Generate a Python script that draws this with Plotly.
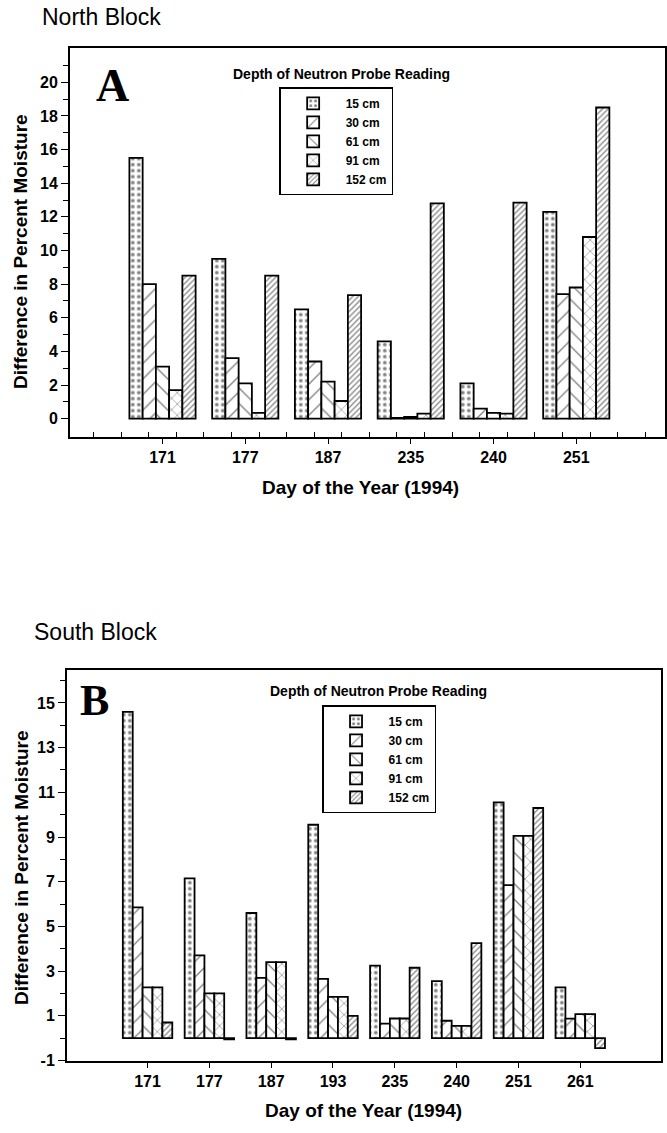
import plotly.graph_objects as go

# ---------------- data ----------------
days_north = ["171", "177", "187", "235", "240", "251"]
north_15 = [15.5, 9.5, 6.5, 4.6, 2.1, 12.3]
north_30 = [8.0, 3.6, 3.4, 0.05, 0.6, 7.4]
north_61 = [3.1, 2.1, 2.2, 0.1, 0.35, 7.8]
north_91 = [1.7, 0.35, 1.05, 0.3, 0.3, 10.8]
north_152 = [8.5, 8.5, 7.35, 12.8, 12.85, 18.5]

days_south = ["171", "177", "187", "193", "235", "240", "251", "261"]
south_15 = [14.6, 7.15, 5.6, 9.55, 3.25, 2.55, 10.55, 2.27]
south_30 = [5.85, 3.7, 2.7, 2.65, 0.65, 0.78, 6.85, 0.87]
south_61 = [2.27, 2.0, 3.4, 1.85, 0.88, 0.55, 9.05, 1.08]
south_91 = [2.27, 2.0, 3.4, 1.85, 0.88, 0.55, 9.05, 1.08]
south_152 = [0.7, -0.05, -0.05, 1.0, 3.15, 4.25, 10.3, -0.45]

depth_labels = ["15 cm", "30 cm", "61 cm", "91 cm", "152 cm"]

north_yticks = [0, 2, 4, 6, 8, 10, 12, 14, 16, 18, 20]
south_yticks = [-1, 1, 3, 5, 7, 9, 11, 13, 15]

# ---------------- styles ----------------
patterns = [
    dict(shape=".", size=6, solidity=0.3),
    dict(shape="/", size=11, solidity=0.12),
    dict(shape="\\", size=11, solidity=0.12),
    dict(shape="x", size=8, solidity=0.15),
    dict(shape="/", size=4, solidity=0.3),
]

W, H = 667, 1133
FONT = "Liberation Sans, Arial, sans-serif"
SERIF = "Liberation Serif, Times New Roman, serif"


def xd(px0, px1):
    return [px0 / W, px1 / W]


def yd(py_top, py_bot):
    return [(H - py_bot) / H, (H - py_top) / H]


fig = go.Figure()

north_series = [north_15, north_30, north_61, north_91, north_152]
south_series = [south_15, south_30, south_61, south_91, south_152]
xn = list(range(len(days_north)))
xs = list(range(len(days_south)))

for lab, vals, pat in zip(depth_labels, north_series, patterns):
    fig.add_trace(go.Bar(
        x=xn, y=vals, name=lab, xaxis="x", yaxis="y", legend="legend",
        marker=dict(color="white", line=dict(color="black", width=1.8),
                    pattern=dict(fgcolor="black", bgcolor="white", **pat)),
    ))

for lab, vals, pat in zip(depth_labels, south_series, patterns):
    fig.add_trace(go.Bar(
        x=xs, y=vals, name=lab, xaxis="x2", yaxis="y2", legend="legend2",
        marker=dict(color="white", line=dict(color="black", width=1.8),
                    pattern=dict(fgcolor="black", bgcolor="white", **pat)),
    ))

axis_common = dict(showline=True, linecolor="black", linewidth=1.5, mirror=True,
                   showgrid=False, zeroline=False, tickcolor="black",
                   tickfont=dict(family=FONT, size=16, color="black", weight="bold"))

# Panel A geometry (pixels)
ax_l, ax_r, ax_t, ax_b = 70, 667, 48, 440
a_c0, a_step = 163, 83
a_lo = (ax_l - a_c0) / a_step
a_hi = (ax_r - a_c0) / a_step

# Panel B geometry
bx_l, bx_r, bx_t, bx_b = 67, 663, 675, 1069
b_c0, b_step = 148, 62
b_lo = (bx_l - b_c0) / b_step
b_hi = (bx_r - b_c0) / b_step

fig.update_layout(
    width=W, height=H,
    margin=dict(l=0, r=0, t=0, b=0),
    paper_bgcolor="white", plot_bgcolor="white",
    barmode="group", bargap=0.2, bargroupgap=0,
    font=dict(family=FONT, color="black"),
    xaxis=dict(domain=xd(ax_l, ax_r), anchor="y", range=[a_lo, a_hi],
               tickvals=xn, ticktext=days_north, ticks="outside", ticklen=6,
               minor=dict(tick0=1/6, dtick=1/3, ticks="inside", ticklen=5, tickcolor="black"),
               **axis_common),
    yaxis=dict(domain=yd(ax_t, ax_b), anchor="x", range=[-1.06, 22.06],
               tickvals=north_yticks, ticktext=[str(v) for v in north_yticks],
               ticks="outside", ticklen=7,
               minor=dict(tickvals=[v + 1 for v in north_yticks], ticks="outside",
                          ticklen=5, tickcolor="black"),
               **axis_common),
    xaxis2=dict(domain=xd(bx_l, bx_r), anchor="y2", range=[b_lo, b_hi],
                tickvals=xs, ticktext=days_south, ticks="outside", ticklen=6,
                **axis_common),
    yaxis2=dict(domain=yd(bx_t, bx_b), anchor="x2", range=[-1, 16.49],
                tickvals=south_yticks, ticktext=[str(v) for v in south_yticks],
                ticks="outside", ticklen=7,
                minor=dict(tickvals=[v + 1 for v in south_yticks], ticks="outside",
                           ticklen=5, tickcolor="black"),
                **axis_common),
    legend=dict(x=280 / W, y=1 - 88 / H, xanchor="left", yanchor="top",
                bordercolor="black", borderwidth=1.5, bgcolor="white",
                font=dict(family=FONT, size=12, color="black", weight="bold"),
                tracegroupgap=0, itemwidth=55),
    legend2=dict(x=323 / W, y=1 - 711 / H, xanchor="left", yanchor="top",
                 bordercolor="black", borderwidth=1.5, bgcolor="white",
                 font=dict(family=FONT, size=12, color="black", weight="bold"),
                 tracegroupgap=0, itemwidth=55),
    showlegend=True,
)


def ann(text, px, py, size, family=FONT, xanchor="center", weight="normal", **kw):
    fig.add_annotation(text=text, x=px / W, y=1 - py / H, xref="paper", yref="paper",
                       showarrow=False, xanchor=xanchor, yanchor="middle",
                       font=dict(family=family, size=size, color="black", weight=weight), **kw)


ann("North Block", 40, 17, 23, xanchor="left")
ann("South Block", 32, 637, 23, xanchor="left")
ann("A", 113, 86, 46, family=SERIF, weight="bold")
ann("B", 95, 706, 44, family=SERIF, weight="bold")
ann("Depth of Neutron Probe Reading", 343, 75, 14, weight="bold")
ann("Depth of Neutron Probe Reading", 380, 697, 14, weight="bold")
ann("Day of the Year (1994)", 362, 491, 19, weight="bold")
ann("Day of the Year (1994)", 365, 1119, 19, weight="bold")
ann("Difference in Percent Moisture", 21, 253, 19, weight="bold", textangle=-90)
ann("Difference in Percent Moisture", 21, 874, 19, weight="bold", textangle=-90)

fig.write_html("out.html", config={"displayModeBar": False},
               post_script="document.body.style.margin='0px';")
